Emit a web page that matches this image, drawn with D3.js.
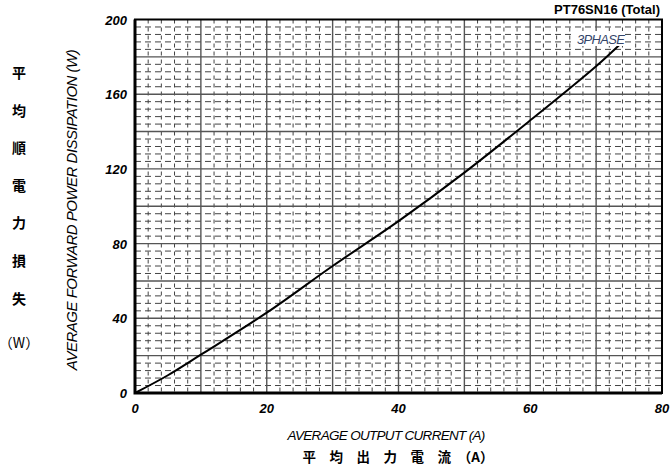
<!DOCTYPE html>
<html>
<head>
<meta charset="utf-8">
<script src="https://cdn.jsdelivr.net/npm/d3@7"></script>
<style>
  body { margin: 0; background: #fff; }
  svg { display: block; }
</style>
</head>
<body>
<svg id="chart" width="670" height="467"></svg>
<script>
// values
const current = [0, 5, 10, 20, 30, 40, 50, 60, 70, 74];
const power = [0, 9.5, 20.5, 43, 68, 92, 118, 146, 175, 188];
const xTicks = [0, 20, 40, 60, 80];
const yTicks = [0, 40, 80, 120, 160, 200];
const yLabelJa = ["平", "均", "順", "電", "力", "損", "失"];

const svg = d3.select("#chart");
const plotLeft = 135, plotRight = 662, plotTop = 19.5, plotBottom = 393;

const x = d3.scaleLinear().domain([0, 80]).range([plotLeft, plotRight]);
const y = d3.scaleLinear().domain([0, 200]).range([plotBottom, plotTop]);

const grid = svg.append("g");

// minor dashed grid
grid.selectAll("line.vminor")
  .data(d3.range(2, 80, 2).filter(v => v % 10 !== 0))
  .enter().append("line")
  .attr("x1", d => x(d)).attr("x2", d => x(d))
  .attr("y1", plotTop).attr("y2", plotBottom)
  .attr("stroke", "#444").attr("stroke-width", 1)
  .attr("stroke-dasharray", "4,4");

grid.selectAll("line.hminor")
  .data(d3.range(4, 200, 4).filter(v => v % 20 !== 0))
  .enter().append("line")
  .attr("x1", plotLeft).attr("x2", plotRight)
  .attr("y1", d => y(d)).attr("y2", d => y(d))
  .attr("stroke", "#444").attr("stroke-width", 1)
  .attr("stroke-dasharray", "6,4");

// major solid grid
grid.selectAll("line.vmajor")
  .data(d3.range(10, 80, 10))
  .enter().append("line")
  .attr("x1", d => x(d)).attr("x2", d => x(d))
  .attr("y1", plotTop).attr("y2", plotBottom)
  .attr("stroke", "#555").attr("stroke-width", 1.4);

grid.selectAll("line.hmajor")
  .data(d3.range(20, 200, 20))
  .enter().append("line")
  .attr("x1", plotLeft).attr("x2", plotRight)
  .attr("y1", d => y(d)).attr("y2", d => y(d))
  .attr("stroke", "#555").attr("stroke-width", 1.4);

// frame
svg.append("rect")
  .attr("x", plotLeft).attr("y", plotTop)
  .attr("width", plotRight - plotLeft).attr("height", plotBottom - plotTop)
  .attr("fill", "none").attr("stroke", "#000").attr("stroke-width", 2);
svg.append("path")
  .attr("d", `M${plotLeft},${plotTop}V${plotBottom}H${plotRight}`)
  .attr("fill", "none").attr("stroke", "#000").attr("stroke-width", 3);

// curve
const pts = current.map((c, i) => [c, power[i]]);
svg.append("path")
  .datum(pts)
  .attr("fill", "none").attr("stroke", "#000").attr("stroke-width", 2)
  .attr("d", d3.line().x(d => x(d[0])).y(d => y(d[1])).curve(d3.curveCatmullRom));

// 3PHASE label
svg.append("rect")
  .attr("x", 574).attr("y", 31).attr("width", 50).attr("height", 15)
  .attr("fill", "#fff");
svg.append("text")
  .attr("x", 577).attr("y", 44)
  .attr("font-family", "Liberation Sans, Arial, sans-serif")
  .attr("font-size", 13).attr("font-style", "italic")
  .attr("fill", "#34456a").attr("letter-spacing", -0.7)
  .text("3PHASE");

// tick labels
const tickFont = "Liberation Sans, Arial, sans-serif";
svg.append("g").selectAll("text")
  .data(xTicks).enter().append("text")
  .attr("x", d => x(d)).attr("y", plotBottom + 20)
  .attr("text-anchor", "middle")
  .attr("font-family", tickFont).attr("font-size", 13)
  .attr("font-weight", "bold").attr("font-style", "italic")
  .text(d => d);

svg.append("g").selectAll("text")
  .data(yTicks).enter().append("text")
  .attr("x", plotLeft - 8).attr("y", d => y(d) + 5)
  .attr("text-anchor", "end")
  .attr("font-family", tickFont).attr("font-size", 13)
  .attr("font-weight", "bold").attr("font-style", "italic")
  .text(d => d);

// titles
svg.append("text")
  .attr("x", 660).attr("y", 14)
  .attr("text-anchor", "end")
  .attr("font-family", tickFont).attr("font-size", 13).attr("font-weight", "bold")
  .text("PT76SN16 (Total)");

svg.append("text")
  .attr("x", 386).attr("y", 440)
  .attr("text-anchor", "middle")
  .attr("font-family", tickFont).attr("font-size", 13.5).attr("font-style", "italic")
  .attr("letter-spacing", -0.7)
  .text("AVERAGE OUTPUT CURRENT (A)");

const jaFont = "Noto Sans CJK JP, sans-serif";
svg.append("text")
  .attr("x", 398).attr("y", 462)
  .attr("text-anchor", "middle")
  .attr("font-family", jaFont).attr("font-size", 13.5).attr("font-weight", "bold")
  .text("平　均　出　力　電　流　（A）");

svg.append("text")
  .attr("transform", "translate(77,210) rotate(-90)")
  .attr("text-anchor", "middle")
  .attr("font-family", tickFont).attr("font-size", 15).attr("font-style", "italic")
  .attr("letter-spacing", -0.5)
  .text("AVERAGE FORWARD POWER DISSIPATION (W)");

svg.append("g").selectAll("text")
  .data(yLabelJa).enter().append("text")
  .attr("x", 19).attr("y", (d, i) => 78 + i * 37.6)
  .attr("text-anchor", "middle")
  .attr("font-family", jaFont).attr("font-size", 14).attr("font-weight", "bold")
  .text(d => d);

svg.append("text")
  .attr("x", 19).attr("y", 348)
  .attr("text-anchor", "middle")
  .attr("font-family", jaFont).attr("font-size", 14)
  .text("（W）");
</script>
</body>
</html>
